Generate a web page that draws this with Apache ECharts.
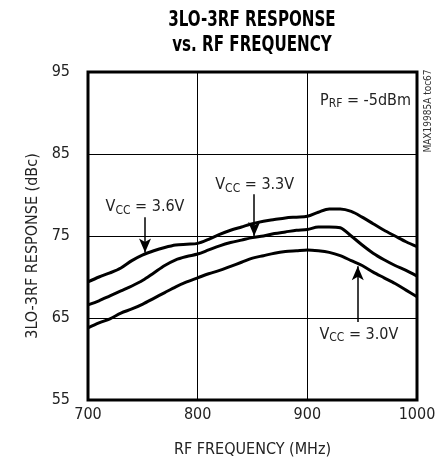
<!DOCTYPE html>
<html><head><meta charset="utf-8">
<script src="https://cdn.jsdelivr.net/npm/echarts@6/dist/echarts.min.js"></script>
<style>html,body{margin:0;padding:0;background:#fff}#c{width:443px;height:457px}</style>
</head><body><div id="c"></div>
<script>
const FONT = '"Liberation Sans Narrow","DejaVu Sans Condensed","Roboto Condensed",sans-serif';
const freq = [700,710,720,730,740,750,760,770,780,790,800,810,820,830,840,850,860,870,880,890,900,910,920,930,940,950,960,970,980,990,1000];
const vcc36 = [69.4,70.0,70.5,71.1,72.0,72.7,73.2,73.6,73.9,74.0,74.1,74.6,75.2,75.7,76.1,76.5,76.8,77.0,77.2,77.3,77.4,77.9,78.3,78.3,78.0,77.3,76.5,75.7,75.0,74.3,73.7];
const vcc33 = [66.6,67.1,67.7,68.3,68.9,69.6,70.5,71.4,72.1,72.5,72.8,73.3,73.8,74.2,74.5,74.8,75.0,75.3,75.5,75.7,75.8,76.1,76.1,76.0,75.0,73.9,72.9,72.1,71.4,70.8,70.1];
const vcc30 = [63.8,64.4,64.9,65.6,66.1,66.7,67.4,68.1,68.8,69.4,69.9,70.4,70.8,71.3,71.8,72.3,72.6,72.9,73.1,73.2,73.3,73.2,73.0,72.6,72.0,71.4,70.6,69.9,69.2,68.4,67.6];
const xTicks = [700,800,900,1000];
const yTicks = [55,65,75,85,95];
// annotation labels: [freq, dBc, text]
const labels = [
  [752, 78.5, '{n|V}{s|CC}{n| = 3.6V}'],
  [852, 81.2, '{n|V}{s|CC}{n| = 3.3V}'],
  [947, 63.0, '{n|V}{s|CC}{n| = 3.0V}'],
  [953, 91.5, '{n|P}{s|RF}{n| = -5dBm}']
];
// arrows: [freq, fromDbc, toDbc]
const arrows = [
  [752, 77.3, 73.0],
  [851.5, 80.1, 75.0],
  [946, 64.5, 71.3]
];
const title1 = '3LO-3RF RESPONSE';
const title2 = 'vs. RF FREQUENCY';

const mk = (vals) => freq.map((f,i)=>[f, vals[i]]);
const lineSeries = (name, vals, extra) => Object.assign({
  name, type:'line', data: mk(vals), showSymbol:false, smooth:0.3,
  lineStyle:{color:'#000', width:3}, silent:true, animation:false, z:3
}, extra||{});

const chart = echarts.init(document.getElementById('c'), null, {renderer:'canvas'});
chart.setOption({
  animation:false,
  backgroundColor:'#fff',
  grid:{left:88, right:26, top:72, bottom:57, show:true, borderColor:'#000', borderWidth:3,
    backgroundColor:'#fff', containLabel:false, outerBoundsMode:'none'},
  xAxis:{
    type:'value', min:700, max:1000, interval:100,
    name:'RF FREQUENCY (MHz)', nameLocation:'middle', nameGap:42,
    nameTextStyle:{fontFamily:FONT, fontSize:16, color:'#222'},
    axisLine:{show:false}, axisTick:{show:false},
    axisLabel:{fontFamily:FONT, fontSize:16, color:'#222', margin:7,
      formatter:(v)=> xTicks.includes(v) ? String(v) : ''},
    splitLine:{show:true, lineStyle:{color:'#000', width:1}}
  },
  yAxis:{
    type:'value', min:55, max:95, interval:10,
    name:'3LO-3RF RESPONSE (dBc)', nameLocation:'middle', nameGap:45, nameRotate:90,
    nameTextStyle:{fontFamily:FONT, fontSize:16, color:'#222', padding:[0,0,0,-20]},
    axisLine:{show:false}, axisTick:{show:false},
    axisLabel:{fontFamily:FONT, fontSize:16, color:'#222', margin:18,
      formatter:(v)=> yTicks.includes(v) ? String(v) : ''},
    splitLine:{show:true, lineStyle:{color:'#000', width:1}}
  },
  series:[
    lineSeries('VCC = 3.6V', vcc36, {
      markLine:{
        silent:true, animation:false, symbol:['none','arrow'], symbolSize:[9,14],
        label:{show:false}, lineStyle:{color:'#000', width:1.5, type:'solid'},
        data: arrows.map(a=>[{coord:[a[0],a[1]]},{coord:[a[0],a[2]]}])
      },
      markPoint:{
        silent:true, animation:false, symbol:'circle', symbolSize:0,
        data: labels.map(l=>({coord:[l[0],l[1]], value:l[2]})),
        label:{show:true, position:'inside', formatter:(p)=>p.value, color:'#222',
          rich:{
            n:{fontFamily:FONT, fontSize:16, color:'#222'},
            s:{fontFamily:FONT, fontSize:12, color:'#222', padding:[7,0,0,0]}
          }}
      }
    }),
    lineSeries('VCC = 3.3V', vcc33),
    lineSeries('VCC = 3.0V', vcc30)
  ],
  graphic:[
    {type:'text', x:252, y:21, scaleX:0.8,
     style:{text:title1, fontFamily:FONT, fontWeight:'bold', fontSize:21, fill:'#000', align:'center', verticalAlign:'middle'}},
    {type:'text', x:252, y:46, scaleX:0.8,
     style:{text:title2, fontFamily:FONT, fontWeight:'bold', fontSize:21, fill:'#000', align:'center', verticalAlign:'middle'}},
    {type:'text', x:428, y:111, rotation:Math.PI/2,
     style:{text:'MAX19985A toc67', fontFamily:FONT, fontSize:10, fill:'#333', align:'center', verticalAlign:'middle'}}
  ]
});
</script></body></html>
